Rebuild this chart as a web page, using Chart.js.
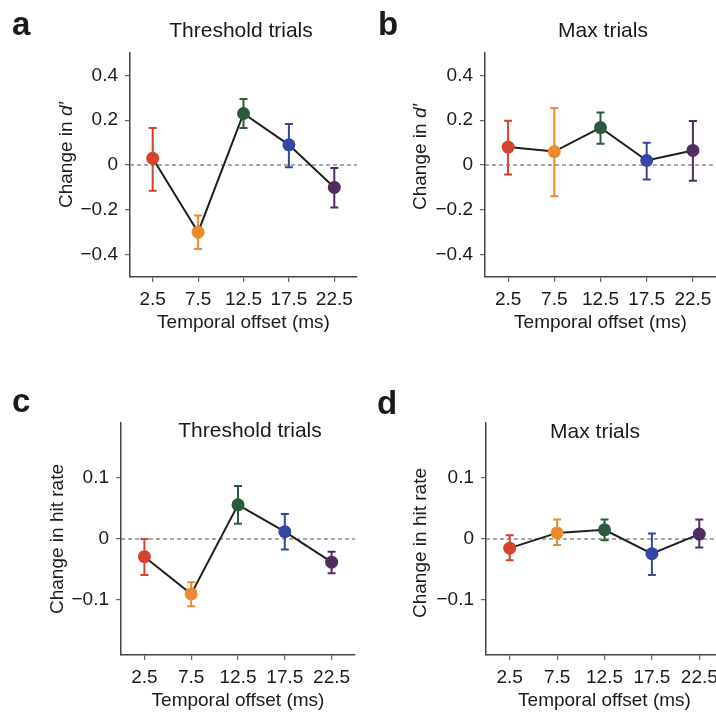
<!DOCTYPE html>
<html><head><meta charset="utf-8">
<script src="https://cdn.jsdelivr.net/npm/chart.js@4/dist/chart.umd.min.js"></script>
<style>
html,body{margin:0;padding:0;background:#fff;overflow:hidden;width:716px;height:713px;}
canvas{position:absolute;}
.lbl{position:absolute;font-family:"Liberation Sans",Arial,sans-serif;color:#1a1a1a;white-space:nowrap;line-height:1;z-index:5;}
.letter{font-weight:bold;font-size:33px;}
.ttl{font-size:21px;text-align:center;width:240px;}
</style></head><body>
<canvas id="ca" width="358" height="340" style="left:0;top:0;width:358px;height:340px"></canvas>
<canvas id="cb" width="358" height="340" style="left:358px;top:0;width:358px;height:340px"></canvas>
<canvas id="cc" width="358" height="353" style="left:0;top:360px;width:358px;height:353px"></canvas>
<canvas id="cd" width="366" height="353" style="left:358px;top:360px;width:366px;height:353px"></canvas>
<div class="lbl letter" style="left:12px;top:7px">a</div>
<div class="lbl letter" style="left:378px;top:7px">b</div>
<div class="lbl letter" style="left:12px;top:384px">c</div>
<div class="lbl letter" style="left:377px;top:386px">d</div>
<div class="lbl ttl" style="left:121px;top:19px">Threshold trials</div>
<div class="lbl ttl" style="left:483px;top:19px">Max trials</div>
<div class="lbl ttl" style="left:130px;top:419px">Threshold trials</div>
<div class="lbl ttl" style="left:475px;top:420px">Max trials</div>
<script>
// ---- data ----
const offsets = [2.5, 7.5, 12.5, 17.5, 22.5];
const xTickLabels = ['2.5', '7.5', '12.5', '17.5', '22.5'];
const pointColors = ['#d4432b', '#ee8a2e', '#2b5b3c', '#3545a3', '#4f2e5f'];

const dThresholdMean = [0.03, -0.30, 0.23, 0.09, -0.10];
const dThresholdLow  = [-0.115, -0.375, 0.165, -0.01, -0.19];
const dThresholdHigh = [0.165, -0.225, 0.295, 0.183, -0.013];

const dMaxMean = [0.08, 0.06, 0.167, 0.02, 0.065];
const dMaxLow  = [-0.042, -0.14, 0.095, -0.065, -0.07];
const dMaxHigh = [0.198, 0.255, 0.234, 0.099, 0.196];

const hitThresholdMean = [-0.029, -0.09, 0.056, 0.012, -0.038];
const hitThresholdLow  = [-0.059, -0.11, 0.025, -0.017, -0.056];
const hitThresholdHigh = [0.0, -0.071, 0.087, 0.041, -0.021];

const hitMaxMean = [-0.015, 0.010, 0.015, -0.024, 0.008];
const hitMaxLow  = [-0.035, -0.010, -0.002, -0.059, -0.014];
const hitMaxHigh = [0.006, 0.032, 0.032, 0.009, 0.032];

const dTicks = [-0.4, -0.2, 0, 0.2, 0.4];
const dTickLabels = ['\u22120.4', '\u22120.2', '0', '0.2', '0.4'];
const hitTicks = [-0.1, 0, 0.1];
const hitTickLabels = ['\u22120.1', '0', '0.1'];

// ---- drawing ----
const FONT = '"Liberation Sans", Arial, sans-serif';
const TXT = '#1a1a1a';

const zeroAndErrPlugin = {
  id: 'zeroAndErr',
  beforeDatasetsDraw(chart) {
    const ctx = chart.ctx, xs = chart.scales.x, ys = chart.scales.y, a = chart.chartArea;
    ctx.save();
    const y0 = ys.getPixelForValue(0);
    ctx.strokeStyle = '#555';
    ctx.lineWidth = 1;
    ctx.setLineDash([4, 3]);
    ctx.beginPath(); ctx.moveTo(a.left, y0); ctx.lineTo(a.right, y0); ctx.stroke();
    ctx.setLineDash([]);
    const ds = chart.data.datasets[0];
    ds.errLow.forEach((lo, i) => {
      const x = xs.getPixelForValue(ds.data[i].x);
      const yl = ys.getPixelForValue(lo), yh = ys.getPixelForValue(ds.errHigh[i]);
      ctx.strokeStyle = ds.pointBackgroundColor[i];
      ctx.lineWidth = 2;
      ctx.beginPath();
      ctx.moveTo(x, yl); ctx.lineTo(x, yh);
      ctx.moveTo(x - 4, yl); ctx.lineTo(x + 4, yl);
      ctx.moveTo(x - 4, yh); ctx.lineTo(x + 4, yh);
      ctx.stroke();
    });
    ctx.restore();
  }
};

function makeYTitle(parts, dx, dy) {
  return {
    id: 'yTitle',
    afterDraw(chart) {
      const ctx = chart.ctx, a = chart.chartArea;
      ctx.save();
      ctx.translate(a.left - dx, (a.top + a.bottom) / 2 + dy);
      ctx.rotate(-Math.PI / 2);
      ctx.fillStyle = TXT;
      ctx.textBaseline = 'middle';
      ctx.textAlign = 'left';
      let total = 0;
      parts.forEach(p => { ctx.font = (p.italic ? 'italic ' : '') + '19px ' + FONT; total += ctx.measureText(p.text).width; });
      let x = -total / 2;
      parts.forEach(p => {
        ctx.font = (p.italic ? 'italic ' : '') + '19px ' + FONT;
        ctx.fillText(p.text, x, 0);
        x += ctx.measureText(p.text).width;
      });
      ctx.restore();
    }
  };
}

function noPad(s) { s.paddingLeft = 0; s.paddingRight = 0; s.paddingTop = 0; s.paddingBottom = 0; }

function makeChart(id, mean, lo, hi, yMin, yMax, yTicks, yLabels, geo, titleParts, tdx, tdy) {
  const font = { family: FONT, size: 19 };
  new Chart(document.getElementById(id), {
    type: 'line',
    data: {
      datasets: [{
        data: offsets.map((x, i) => ({ x: x, y: mean[i] })),
        errLow: lo, errHigh: hi,
        borderColor: '#1e1e1e', borderWidth: 2,
        pointRadius: 6.5, pointHoverRadius: 6.5,
        pointBackgroundColor: pointColors, pointBorderColor: pointColors, pointBorderWidth: 0,
        tension: 0, clip: false
      }]
    },
    options: {
      responsive: false, animation: false, devicePixelRatio: 1,
      layout: { autoPadding: false, padding: { top: geo.pt, right: geo.pr, left: 0, bottom: 0 } },
      plugins: { legend: { display: false }, tooltip: { enabled: false } },
      scales: {
        x: {
          type: 'linear', min: 0, max: 25,
          afterFit(s) { s.height = geo.xh; noPad(s); },
          afterBuildTicks(s) { s.ticks = offsets.map(v => ({ value: v })); },
          ticks: { font: font, color: TXT, padding: 6, maxRotation: 0, autoSkip: false,
            callback: v => xTickLabels[offsets.indexOf(v)] },
          grid: { display: true, drawOnChartArea: false, drawTicks: true, tickLength: 5, color: '#666', lineWidth: 1.2 },
          border: { display: true, color: '#444', width: 1.5 },
          title: { display: true, text: 'Temporal offset (ms)', font: font, color: TXT, padding: { top: 0, bottom: geo.tpb } }
        },
        y: {
          type: 'linear', min: yMin, max: yMax,
          afterFit(s) { s.width = geo.yw; noPad(s); },
          afterBuildTicks(s) { s.ticks = yTicks.map(v => ({ value: v })); },
          ticks: { font: font, color: TXT, padding: 7,
            callback: v => yLabels[yTicks.indexOf(v)] },
          grid: { display: true, drawOnChartArea: false, drawTicks: true, tickLength: 5, color: '#666', lineWidth: 1.2 },
          border: { display: true, color: '#444', width: 1.5 },
          title: { display: false }
        }
      }
    },
    plugins: [zeroAndErrPlugin, makeYTitle(titleParts, tdx, tdy)]
  });
}

const dParts = [{ text: 'Change in ', italic: false }, { text: 'd\u2032', italic: true }];
const hParts = [{ text: 'Change in hit rate', italic: false }];

makeChart('ca', dThresholdMean, dThresholdLow, dThresholdHigh, -0.5, 0.5, dTicks, dTickLabels,
  { pt: 53, pr: 1, xh: 63, yw: 130, tpb: 6 }, dParts, 63, -10);
makeChart('cb', dMaxMean, dMaxLow, dMaxHigh, -0.5, 0.5, dTicks, dTickLabels,
  { pt: 53, pr: 0, xh: 63, yw: 127, tpb: 6 }, dParts, 64, -8);
makeChart('cc', hitThresholdMean, hitThresholdLow, hitThresholdHigh, -0.19, 0.19, hitTicks, hitTickLabels,
  { pt: 63, pr: 3, xh: 58, yw: 121, tpb: 1 }, hParts, 63, 0);
makeChart('cd', hitMaxMean, hitMaxLow, hitMaxHigh, -0.19, 0.19, hitTicks, hitTickLabels,
  { pt: 63, pr: 1, xh: 58, yw: 128, tpb: 1 }, hParts, 65, 4);
</script>
</body></html>
